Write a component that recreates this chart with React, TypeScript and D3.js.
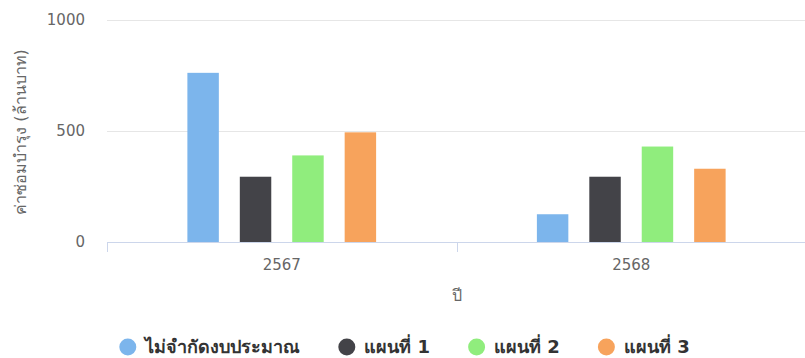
import React, { useEffect, useRef } from "react";
import * as d3 from "d3";

const categories = ["2567", "2568"];
const seriesNames = ["ไม่จำกัดงบประมาณ", "แผนที่ 1", "แผนที่ 2", "แผนที่ 3"];
const seriesColors = ["#7cb5ec", "#434348", "#90ed7d", "#f7a35c"];
const unlimited = [762, 125];
const plan1 = [294, 294];
const plan2 = [390, 430];
const plan3 = [494, 330];
const yTicks = [0, 500, 1000];
const yTitle = "ค่าซ่อมบำรุง (ล้านบาท)";
const xTitle = "ปี";

const W = 805;
const H = 358;

export default function App() {
  const ref = useRef<SVGSVGElement>(null);
  useEffect(() => {
    const svg = d3.select(ref.current);
    svg.selectAll("*").remove();
    const font = "'DejaVu Sans', Verdana, sans-serif";
    const left = 107, right = 806, top = 20, bottom = 242;
    const values = [unlimited, plan1, plan2, plan3];

    const x = d3.scaleBand<string>().domain(categories).range([left, right]).paddingInner(0).paddingOuter(0);
    const y = d3.scaleLinear().domain([0, 1000]).range([bottom, top]);
    const inner = d3.scaleBand<number>().domain(d3.range(seriesNames.length))
      .range([0, x.bandwidth() * 0.6]).paddingInner(0.4).paddingOuter(0.2);
    const groupOffset = x.bandwidth() * 0.2;

    // gridlines
    svg.append("g").selectAll("line").data(yTicks.slice(1)).join("line")
      .attr("x1", left).attr("x2", right)
      .attr("y1", d => Math.round(y(d)) + 0.5).attr("y2", d => Math.round(y(d)) + 0.5)
      .attr("stroke", "#e6e6e6").attr("stroke-width", 1);

    // y labels
    svg.append("g").selectAll("text").data(yTicks).join("text")
      .attr("x", 85).attr("y", d => y(d) + 5)
      .attr("text-anchor", "end").attr("font-family", font).attr("font-size", 15).attr("fill", "#666")
      .text(d => String(d));

    // y title
    svg.append("text")
      .attr("transform", `translate(26,${(top + bottom) / 2 + 1}) rotate(-90)`)
      .attr("text-anchor", "middle").attr("font-family", font).attr("font-size", 16).attr("fill", "#666")
      .text(yTitle);

    // bars
    values.forEach((vals, si) => {
      svg.append("g").selectAll("rect").data(vals).join("rect")
        .attr("x", (d, i) => (x(categories[i]) as number) + groupOffset + (inner(si) as number))
        .attr("width", inner.bandwidth())
        .attr("y", d => y(d))
        .attr("height", d => bottom - y(d))
        .attr("fill", seriesColors[si]);
    });

    // x axis line
    svg.append("line").attr("x1", left).attr("x2", right).attr("y1", bottom + 0.5).attr("y2", bottom + 0.5)
      .attr("stroke", "#ccd6eb");
    // ticks at boundaries
    const boundaries = categories.map(c => x(c) as number).concat([right]);
    svg.append("g").selectAll("line").data(boundaries).join("line")
      .attr("x1", d => Math.round(d) + 0.5).attr("x2", d => Math.round(d) + 0.5)
      .attr("y1", bottom).attr("y2", bottom + 10).attr("stroke", "#ccd6eb");

    // x labels
    svg.append("g").selectAll("text").data(categories).join("text")
      .attr("x", d => (x(d) as number) + x.bandwidth() / 2).attr("y", bottom + 28)
      .attr("text-anchor", "middle").attr("font-family", font).attr("font-size", 15).attr("fill", "#666")
      .text(d => d);

    // x title
    svg.append("text").attr("x", (left + right) / 2).attr("y", bottom + 59)
      .attr("text-anchor", "middle").attr("font-family", font).attr("font-size", 16).attr("fill", "#666")
      .text(xTitle);

    // legend
    const lg = svg.append("g");
    const items = lg.selectAll("g").data(seriesNames).join("g");
    items.append("circle").attr("r", 8.5).attr("cx", 8.5).attr("cy", 0).attr("fill", (d, i) => seriesColors[i]);
    const texts = items.append("text").attr("x", 26).attr("y", 6)
      .attr("font-family", font).attr("font-size", 18).attr("font-weight", "bold").attr("fill", "#333")
      .text(d => d);
    const widths: number[] = [];
    texts.each(function () { widths.push(26 + (this as SVGTextElement).getComputedTextLength()); });
    const gap = 38;
    const total = d3.sum(widths) + gap * (widths.length - 1);
    let cx = W / 2 + 2 - total / 2;
    items.attr("transform", (d, i) => {
      const t = `translate(${cx},347)`;
      cx += widths[i] + gap;
      return t;
    });
  }, []);
  return <svg ref={ref} width={W} height={H} style={{ position: "absolute", left: 0, top: 0 }} />;
}
